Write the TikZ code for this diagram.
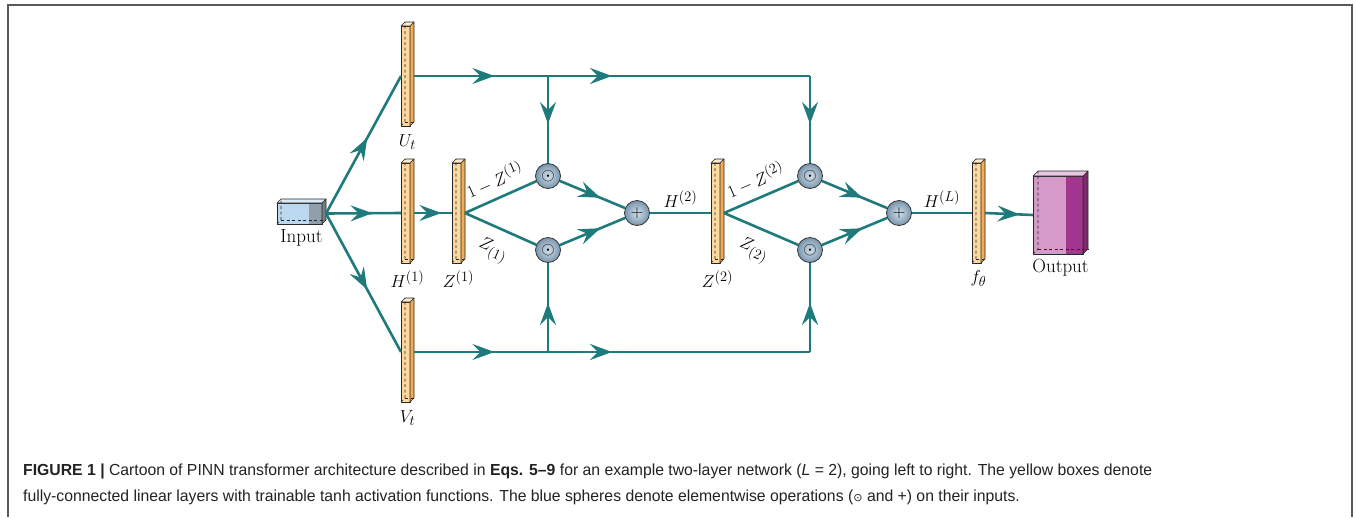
\documentclass[tikz,border=0pt]{standalone}
\usepackage{fontspec}
\usepackage{amsmath}
\newfontfamily\capfont[FakeStretch=0.985]{Liberation Sans}
\newfontfamily\symfont{DejaVu Sans}
\usetikzlibrary{arrows.meta,decorations.markings,calc}
\definecolor{tealln}{HTML}{1F7B7B}
\definecolor{barfront}{HTML}{FDD9A0}
\definecolor{barside}{HTML}{F3AC55}
\definecolor{inlight}{HTML}{BCD8EE}
\definecolor{indark}{HTML}{929FA8}
\definecolor{inside}{HTML}{737F88}
\definecolor{outlight}{HTML}{D69AC9}
\definecolor{outdark}{HTML}{A3368F}
\definecolor{outside}{HTML}{7E2A6F}
\definecolor{spherein}{HTML}{D3E0EA}
\definecolor{sphereout}{HTML}{7894AC}
\definecolor{captext}{HTML}{222222}
\tikzset{
  boxline/.style={draw=black!85,line width=0.6pt,line join=round},
  conn/.style={draw=tealln,line width=2.6pt},
  midarrow/.style={postaction={decorate},decoration={markings,
     mark=at position #1 with {\arrow[tealln]{Stealth[length=22pt,width=16pt,inset=8pt]}}}},
  midarrow/.default=0.6,
  sphere/.style={circle,draw=black!80,line width=0.8pt,inner color=spherein,outer color=sphereout,
     minimum size=25pt,inner sep=0pt},
  lbl/.style={inner sep=2pt},
}
\def\cubd{4}
% #1 name, #2 L, #3 T, #4 R, #5 B, #6 split, #7 light, #8 dark, #9 side
\newcommand\cuboid[9]{%
  \pgfmathsetmacro\cw{#4-#2}\pgfmathsetmacro\chh{#5-#3}\pgfmathsetmacro\nw{#4-#2+\cubd}%
  \node[inner sep=0pt,outer sep=0pt,minimum width=\nw pt,minimum height=\chh pt] (#1) at ({(#2+#4+\cubd)/2},{(#3+#5)/2}) {};
  \fill[#7] (#2,#3) rectangle (#6,#5);
  \fill[#8] (#6,#3) rectangle (#4,#5);
  \draw[boxline] (#2,#3) rectangle (#4,#5);
  \filldraw[boxline,fill=#9] (#4,#3) -- ++(\cubd,-\cubd) -- ++(0,\chh) -- (#4,#5) -- cycle;
  \filldraw[boxline,fill=#7!55!white] (#2,#3) -- ++(\cubd,-\cubd) -- ++(\cw,0) -- (#4,#3) -- cycle;
  \draw[boxline,dash pattern=on 3pt off 2.5pt] (#2,#5) -- ++(\cubd,-\cubd) -- ++(0,-\chh);
  \draw[boxline,dash pattern=on 3pt off 2.5pt] (#2,#5) ++(\cubd,-\cubd) -- ++(\cw,0);
}
\begin{document}
\begin{tikzpicture}[x=1pt,y=-1pt,font=\fontsize{19}{22}\selectfont]
\useasboundingbox (0,0) rectangle (1356,517);
\draw[black!65,line width=1.5pt] (8,517) -- (8,5) -- (1352,5) -- (1352,517);

% boxes
\cuboid{in}{277}{203}{322}{224}{309}{inlight}{indark}{inside}
\node[below=2pt] (inlbl) at (in.south) {Input};
\cuboid{Ut}{401}{26}{410}{126}{410}{barfront}{barfront}{barside}
\cuboid{H1}{401}{163}{410}{263}{410}{barfront}{barfront}{barside}
\cuboid{Vt}{401}{302}{410}{402}{410}{barfront}{barfront}{barside}
\cuboid{Z1}{452}{163}{461}{263}{461}{barfront}{barfront}{barside}
\cuboid{Z2}{711}{163}{720}{263}{720}{barfront}{barfront}{barside}
\cuboid{F}{972}{163}{981}{263}{981}{barfront}{barfront}{barside}
\def\cubd{5}
\cuboid{out}{1033}{176}{1083}{254}{1066}{outlight}{outdark}{outside}

\node[below=5pt] (Utl) at (Ut.south) {$U_t$};
\node[below=4pt] (H1l) at (H1.south) {$H^{(1)}$};
\node[below=5pt] (Vtl) at (Vt.south) {$V_t$};
\node[below=4pt] (Z1l) at (Z1.south) {$Z^{(1)}$};
\node[below=4pt] (Z2l) at (Z2.south) {$Z^{(2)}$};
\node[below=4pt] (Fl) at (F.south) {$f_\theta$};
\node[below=2pt] (outl) at (out.south) {Output};

% spheres
\node[sphere] (o1) at (548,176) {$\odot$};
\node[sphere] (o2) at (548,250) {$\odot$};
\node[sphere] (p1) at (637,213) {$+$};
\node[sphere] (o3) at (810,176) {$\odot$};
\node[sphere] (o4) at (810,250) {$\odot$};
\node[sphere] (p2) at (899,213) {$+$};

\coordinate (t1) at (Ut.east -| o1);
\coordinate (t2) at (Ut.east -| o3);
\coordinate (b1) at (Vt.east -| o2);
\coordinate (b2) at (Vt.east -| o4);

% connectors
\draw[conn,midarrow=0.62] (in.east) -- (H1.west);
\draw[conn,midarrow=0.55] (in.east) -- (Ut.west);
\draw[conn,midarrow=0.55] (in.east) -- (Vt.west);
\draw[conn,midarrow=0.72] (H1.east) -- (Z1.west);
\draw[conn,midarrow=0.6] (Ut.east) -- (t1);
\draw[conn,midarrow=0.5] (Ut.east) -- (t2);
\draw[conn,midarrow=0.55] (t1) -- (o1);
\draw[conn,midarrow=0.55] (t2) -- (o3);
\draw[conn,midarrow=0.6] (Vt.east) -- (b1);
\draw[conn,midarrow=0.5] (Vt.east) -- (b2);
\draw[conn,midarrow=0.55] (b1) -- (o2);
\draw[conn,midarrow=0.55] (b2) -- (o4);
\draw[conn] (Z1.east) -- (o1) node[lbl,pos=0.52,sloped,above=6pt] {$1-Z^{(1)}$};
\draw[conn] (Z1.east) -- (o2) node[lbl,pos=0.52,sloped,below=10pt] {$Z_{(1)}$};
\draw[conn,midarrow=0.62] (o1) -- (p1);
\draw[conn,midarrow=0.62] (o2) -- (p1);
\draw[conn] (p1) -- (Z2.west) node[lbl,midway,above=2pt] {$H^{(2)}$};
\draw[conn] (Z2.east) -- (o3) node[lbl,pos=0.52,sloped,above=6pt] {$1-Z^{(2)}$};
\draw[conn] (Z2.east) -- (o4) node[lbl,pos=0.52,sloped,below=10pt] {$Z_{(2)}$};
\draw[conn,midarrow=0.62] (o3) -- (p2);
\draw[conn,midarrow=0.62] (o4) -- (p2);
\draw[conn] (p2) -- (F.west) node[lbl,midway,above=2pt] {$H^{(L)}$};
\draw[conn,midarrow=0.72] (F.east) -- (out.west);

% caption
\node[anchor=base west,inner sep=0pt,text=captext,font=\capfont\fontsize{16}{19}\selectfont] (cap1) at (23,475)
 {\textbf{FIGURE 1 |} Cartoon of PINN transformer architecture described in \textbf{Eqs. 5–9} for an example two-layer network (\textit{L} = 2), going left to right. The yellow boxes denote};
\node[anchor=base west,inner sep=0pt,text=captext,font=\capfont\fontsize{16}{19}\selectfont] (cap2) at (23,501)
 {fully-connected linear layers with trainable tanh activation functions. The blue spheres denote elementwise operations ({\symfont\fontsize{11}{13}\selectfont ⊙} and +) on their inputs.};
\end{tikzpicture}
\end{document}
